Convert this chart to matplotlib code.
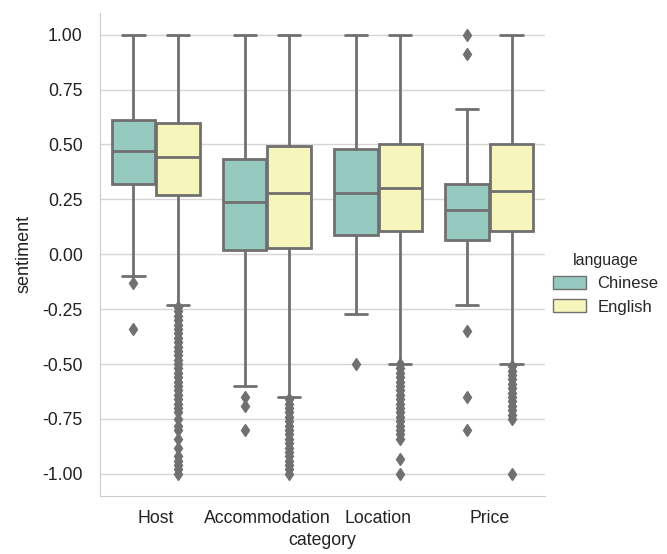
import matplotlib
matplotlib.use("Agg")
import matplotlib.pyplot as plt
import seaborn as sns
from matplotlib.patches import Patch

categories = ["Host", "Accommodation", "Location", "Price"]
languages = ["Chinese", "English"]

# box stats: [whislo, q1, med, q3, whishi]
zh_stats = [
    [-0.10, 0.32, 0.47, 0.61, 1.00],
    [-0.60, 0.02, 0.24, 0.435, 1.00],
    [-0.27, 0.09, 0.28, 0.48, 1.00],
    [-0.23, 0.065, 0.20, 0.32, 0.66],
]
en_stats = [
    [-0.23, 0.27, 0.445, 0.60, 1.00],
    [-0.65, 0.03, 0.28, 0.495, 1.00],
    [-0.50, 0.105, 0.30, 0.50, 1.00],
    [-0.50, 0.105, 0.29, 0.50, 1.00],
]

zh_fliers = [
    [-0.13, -0.34],
    [-0.65, -0.69, -0.80],
    [-0.50],
    [1.00, 0.91, -0.35, -0.65, -0.80],
]
en_fliers = [
    [-0.24, -0.26, -0.28, -0.30, -0.32, -0.34, -0.36, -0.38, -0.40, -0.42,
     -0.44, -0.46, -0.48, -0.50, -0.52, -0.54, -0.56, -0.58, -0.60, -0.62,
     -0.64, -0.66, -0.68, -0.70, -0.72, -0.75, -0.78, -0.80, -0.84, -0.88,
     -0.92, -0.94, -0.96, -0.98, -1.00],
    [-0.66, -0.68, -0.70, -0.72, -0.74, -0.76, -0.78, -0.80, -0.82, -0.84,
     -0.86, -0.88, -0.90, -0.92, -0.94, -0.96, -0.98, -1.00],
    [-0.50, -0.52, -0.54, -0.56, -0.58, -0.60, -0.62, -0.64, -0.66, -0.68,
     -0.70, -0.72, -0.74, -0.76, -0.78, -0.80, -0.82, -0.84, -0.93, -1.00],
    [-0.51, -0.53, -0.55, -0.57, -0.59, -0.61, -0.63, -0.65, -0.67, -0.69,
     -0.71, -0.73, -0.75, -1.00],
]

sns.set_style("whitegrid")
plt.rcParams["font.family"] = ["Liberation Sans", "DejaVu Sans"]
plt.rcParams["axes.unicode_minus"] = False

colors = sns.color_palette("Set3", 2, desat=0.75)
line_gray = "#707070"
fs = 12.7

fig = plt.figure(figsize=(6.67, 5.54), dpi=100)
ax = fig.add_axes([0.150, 0.105, 0.667, 0.872])


def make_stats(stats, fliers):
    out = []
    for s, f in zip(stats, fliers):
        out.append(dict(whislo=s[0], q1=s[1], med=s[2], q3=s[3], whishi=s[4], fliers=f))
    return out


width = 0.4
for j, (stats, fliers) in enumerate([(zh_stats, zh_fliers), (en_stats, en_fliers)]):
    pos = [i - 0.2 + 0.4 * j for i in range(len(categories))]
    ax.bxp(make_stats(stats, fliers), positions=pos, widths=width * 0.98,
           patch_artist=True, manage_ticks=False,
           boxprops=dict(facecolor=colors[j], edgecolor=line_gray, linewidth=2),
           medianprops=dict(color=line_gray, linewidth=2),
           whiskerprops=dict(color=line_gray, linewidth=2),
           capprops=dict(color=line_gray, linewidth=2),
           flierprops=dict(marker="d", markerfacecolor=line_gray, markeredgecolor=line_gray,
                           markersize=6, linestyle="none"),
           capwidths=width * 0.5)

ax.set_xlim(-0.5, len(categories) - 0.5)
ax.set_ylim(-1.1, 1.1)
ax.set_xticks(range(len(categories)))
ax.set_xticklabels(categories)
ax.set_yticks([1.0, 0.75, 0.5, 0.25, 0.0, -0.25, -0.5, -0.75, -1.0])
ax.set_yticklabels(["1.00", "0.75", "0.50", "0.25", "0.00", "-0.25", "-0.50", "-0.75", "-1.00"])
ax.xaxis.grid(False)
ax.yaxis.grid(True, color="#d6d6d6", linewidth=1)
ax.tick_params(labelsize=fs, colors="#222222")
ax.tick_params(axis="y", pad=9)
ax.tick_params(axis="x", pad=6.5)
for s in ["top", "right"]:
    ax.spines[s].set_visible(False)
for s in ["left", "bottom"]:
    ax.spines[s].set_color("#cccccc")
ax.set_xlabel("category", fontsize=fs, color="#222222", labelpad=4)
ax.set_ylabel("sentiment", fontsize=13, color="#222222", labelpad=7)

handles = [Patch(facecolor=colors[k], edgecolor=line_gray, linewidth=1) for k in range(2)]
leg = fig.legend(handles, languages, title="language", loc="center left",
                 bbox_to_anchor=(0.806, 0.488), frameon=False, fontsize=12,
                 title_fontsize=11.5, handlelength=2.0, handleheight=0.8,
                 handletextpad=0.7, labelspacing=0.5)

fig.savefig("out.png", dpi=100)
